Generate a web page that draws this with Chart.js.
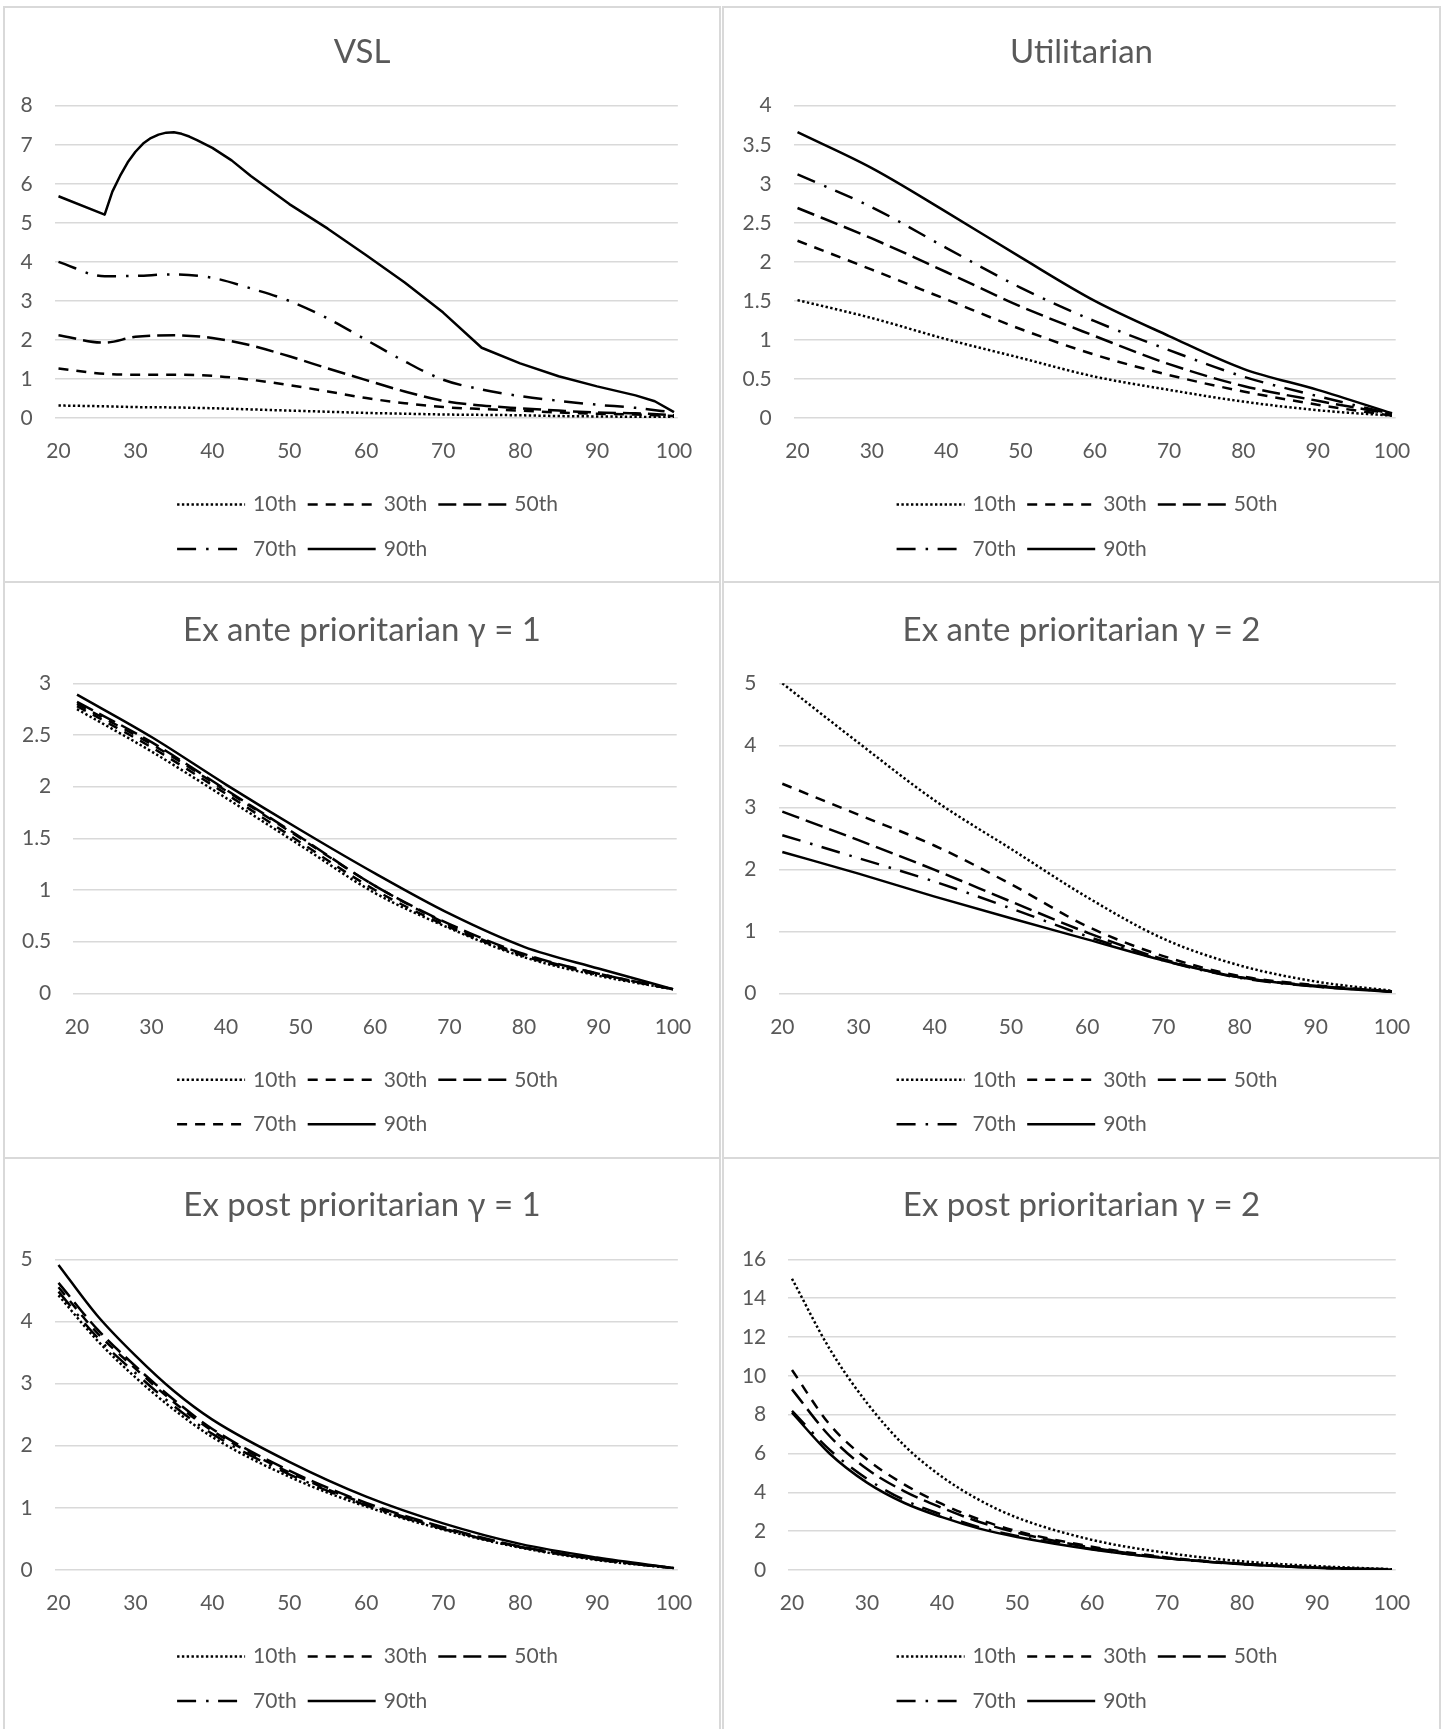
<!DOCTYPE html>
<html><head><meta charset="utf-8">
<style>
html,body{margin:0;padding:0;background:#fff;width:1445px;height:1729px;overflow:hidden}
.panel{position:absolute;box-sizing:border-box;border:2px solid #d9d9d9;background:#fff}
.panel .holder{position:absolute;left:0;top:0;right:0;bottom:0}
</style>
<script src="https://cdn.jsdelivr.net/npm/chart.js@4.4.1/dist/chart.umd.min.js"></script>
</head><body>
<div class="panel" style="left:3px;top:6px;width:718px;height:577px"><div class="holder"><canvas id="c1"></canvas></div></div>
<div class="panel" style="left:722px;top:6px;width:719px;height:577px"><div class="holder"><canvas id="c2"></canvas></div></div>
<div class="panel" style="left:3px;top:581px;width:718px;height:578px"><div class="holder"><canvas id="c3"></canvas></div></div>
<div class="panel" style="left:722px;top:581px;width:719px;height:578px"><div class="holder"><canvas id="c4"></canvas></div></div>
<div class="panel" style="left:3px;top:1157px;width:718px;height:580px"><div class="holder"><canvas id="c5"></canvas></div></div>
<div class="panel" style="left:722px;top:1157px;width:719px;height:580px"><div class="holder"><canvas id="c6"></canvas></div></div>
<script>
// ---------------- DATA ----------------
const seriesLabels = ["10th", "30th", "50th", "70th", "90th"];
const xTicks = [20, 30, 40, 50, 60, 70, 80, 90, 100];

// VSL
const vslAges = [20, 26, 30, 35, 40, 45, 50, 55, 60, 65, 70, 75, 80, 85, 90, 95, 100];
const vsl10 = [0.32, 0.30, 0.28, 0.27, 0.25, 0.22, 0.19, 0.16, 0.13, 0.11, 0.09, 0.08, 0.07, 0.05, 0.04, 0.03, 0.02];
const vsl30 = [1.27, 1.13, 1.11, 1.11, 1.08, 0.98, 0.84, 0.68, 0.51, 0.38, 0.28, 0.23, 0.19, 0.14, 0.11, 0.09, 0.05];
const vsl50 = [2.12, 1.93, 2.08, 2.12, 2.05, 1.86, 1.58, 1.27, 0.97, 0.68, 0.44, 0.32, 0.25, 0.19, 0.14, 0.12, 0.07];
const vsl70 = [4.00, 3.63, 3.64, 3.68, 3.59, 3.32, 3.00, 2.55, 2.00, 1.45, 0.98, 0.73, 0.56, 0.44, 0.34, 0.26, 0.14];
const vsl90Ages = [20, 26, 27, 28, 29, 30, 31, 32, 33, 34, 35, 36, 37, 38, 40, 42.5, 45, 50, 55, 60, 65, 70, 75, 80, 85, 90, 95, 97.5, 100];
const vsl90 = [5.68, 5.21, 5.80, 6.20, 6.55, 6.82, 7.03, 7.17, 7.26, 7.31, 7.32, 7.28, 7.21, 7.12, 6.92, 6.60, 6.20, 5.48, 4.85, 4.17, 3.47, 2.70, 1.80, 1.40, 1.07, 0.81, 0.58, 0.43, 0.15];
const vslYTicks = [0, 1, 2, 3, 4, 5, 6, 7, 8];

// Utilitarian
const utilAges = [20, 30, 40, 50, 60, 70, 80, 90, 100];
const util10 = [1.51, 1.28, 1.01, 0.77, 0.53, 0.36, 0.21, 0.10, 0.03];
const util30 = [2.27, 1.90, 1.52, 1.14, 0.81, 0.55, 0.34, 0.17, 0.03];
const util50 = [2.69, 2.30, 1.87, 1.43, 1.05, 0.69, 0.41, 0.22, 0.05];
const util70 = [3.12, 2.70, 2.18, 1.67, 1.24, 0.87, 0.53, 0.28, 0.05];
const util90 = [3.66, 3.20, 2.64, 2.06, 1.50, 1.05, 0.63, 0.36, 0.06];
const utilYTicks = [0, 0.5, 1, 1.5, 2, 2.5, 3, 3.5, 4];

// Ex ante prioritarian gamma = 1
const ea1Ages = [20, 30, 40, 50, 60, 70, 80, 90, 100];
const ea1_10 = [2.75, 2.34, 1.89, 1.43, 0.97, 0.63, 0.35, 0.17, 0.04];
const ea1_30 = [2.80, 2.41, 1.96, 1.50, 1.04, 0.66, 0.37, 0.19, 0.04];
const ea1_50 = [2.82, 2.43, 1.97, 1.51, 1.04, 0.67, 0.38, 0.19, 0.04];
const ea1_70 = [2.78, 2.38, 1.93, 1.46, 1.00, 0.64, 0.36, 0.18, 0.04];
const ea1_90 = [2.89, 2.48, 2.02, 1.58, 1.16, 0.77, 0.45, 0.24, 0.04];
const ea1YTicks = [0, 0.5, 1, 1.5, 2, 2.5, 3];

// Ex ante prioritarian gamma = 2
const ea2Ages = [20, 30, 40, 50, 60, 70, 80, 90, 100];
const ea2_10 = [5.00, 4.04, 3.11, 2.33, 1.55, 0.88, 0.45, 0.19, 0.04];
const ea2_30 = [3.38, 2.88, 2.38, 1.76, 1.08, 0.60, 0.28, 0.13, 0.03];
const ea2_50 = [2.93, 2.47, 1.99, 1.48, 0.98, 0.55, 0.26, 0.12, 0.03];
const ea2_70 = [2.55, 2.18, 1.80, 1.37, 0.92, 0.53, 0.25, 0.11, 0.03];
const ea2_90 = [2.28, 1.93, 1.56, 1.21, 0.87, 0.53, 0.26, 0.11, 0.02];
const ea2YTicks = [0, 1, 2, 3, 4, 5];

// Ex post prioritarian gamma = 1
const ep1Ages = [20, 25, 30, 35, 40, 50, 60, 70, 80, 90, 100];
const ep1_10 = [4.42, 3.70, 3.10, 2.58, 2.14, 1.50, 1.02, 0.65, 0.36, 0.16, 0.03];
const ep1_30 = [4.55, 3.82, 3.24, 2.70, 2.24, 1.57, 1.06, 0.67, 0.37, 0.17, 0.03];
const ep1_50 = [4.62, 3.88, 3.28, 2.74, 2.27, 1.60, 1.08, 0.69, 0.38, 0.18, 0.03];
const ep1_70 = [4.48, 3.75, 3.17, 2.64, 2.19, 1.54, 1.04, 0.66, 0.37, 0.17, 0.03];
const ep1_90 = [4.91, 4.10, 3.45, 2.88, 2.42, 1.74, 1.18, 0.75, 0.42, 0.20, 0.03];
const ep1YTicks = [0, 1, 2, 3, 4, 5];

// Ex post prioritarian gamma = 2
const ep2Ages = [20, 25, 30, 35, 40, 45, 50, 60, 70, 80, 90, 100];
const ep2_10 = [15.0, 11.4, 8.6, 6.4, 4.8, 3.6, 2.7, 1.55, 0.88, 0.45, 0.20, 0.04];
const ep2_30 = [10.3, 7.5, 5.7, 4.4, 3.4, 2.6, 2.0, 1.2, 0.65, 0.33, 0.13, 0.03];
const ep2_50 = [9.3, 6.9, 5.2, 4.05, 3.2, 2.47, 1.92, 1.15, 0.62, 0.32, 0.12, 0.03];
const ep2_70 = [8.2, 6.2, 4.7, 3.6, 2.85, 2.2, 1.75, 1.08, 0.60, 0.30, 0.12, 0.03];
const ep2_90 = [8.1, 6.0, 4.5, 3.45, 2.72, 2.13, 1.70, 1.06, 0.60, 0.30, 0.12, 0.03];
const ep2YTicks = [0, 2, 4, 6, 8, 10, 12, 14, 16];

// ---------------- STYLE ----------------
const FONT = "Lato, 'Liberation Serif', sans-serif";
const TEXT = '#595959';
const DASH = {
  dot: [2.4, 2.4],
  dash: [10, 8],
  longDash: [18, 7],
  longDashDot: [19, 10, 2.5, 9.5],
  solid: []
};

function pts(xs, ys) { return xs.map((x, i) => ({ x: x, y: ys[i] })); }

function ds(label, xs, ys, dash, tension) {
  const d = {
    label: label,
    data: pts(xs, ys),
    yAxisID: 'y',
    borderColor: '#000000',
    backgroundColor: '#000000',
    borderWidth: 2.5,
    borderDash: dash,
    borderCapStyle: 'butt',
    borderJoinStyle: 'round',
    pointRadius: 0,
    fill: false
  };
  if (tension === 0) { d.tension = 0; } else { d.cubicInterpolationMode = 'monotone'; }
  return d;
}

const legendPlugin = {
  id: 'excelLegend',
  afterDraw(chart, args, opts) {
    const ctx = chart.ctx;
    const area = chart.chartArea;
    const dsets = chart.data.datasets;
    const rows = [dsets.slice(0, 3), dsets.slice(3)];
    const sample = 68, gap = 8, itemGap = 11;
    ctx.save();
    ctx.font = '21px ' + FONT;
    const rowWidth = r => r.reduce((s, d, i) => s + sample + gap + ctx.measureText(d.label).width + (i ? itemGap : 0), 0);
    const maxW = Math.max.apply(null, rows.map(rowWidth));
    const x0 = (chart.width - maxW) / 2 + opts.shift;
    rows.forEach((r, ri) => {
      const y = area.bottom + opts.rowY[ri];
      let x = x0;
      r.forEach(d => {
        ctx.beginPath();
        ctx.setLineDash(d.borderDash || []);
        ctx.lineWidth = d.borderWidth;
        ctx.lineCap = 'butt';
        ctx.strokeStyle = d.borderColor;
        ctx.moveTo(x, y);
        ctx.lineTo(x + sample, y);
        ctx.stroke();
        ctx.setLineDash([]);
        ctx.fillStyle = TEXT;
        ctx.textBaseline = 'middle';
        ctx.textAlign = 'left';
        ctx.fillText(d.label, x + sample + gap, y);
        x += sample + gap + ctx.measureText(d.label).width + itemGap;
      });
    });
    ctx.restore();
  }
};

const rowLayout = [
  { tTop: 24.9, tBottom: 33.2, padB: 113 },
  { tTop: 27.3, tBottom: 33.4, padB: 113.7 },
  { tTop: 26.8, tBottom: 33.9, padB: 115 }
];

function makeChart(id, title, datasets, yTicks, row, yW, padR) {
  const L = rowLayout[row];
  return new Chart(document.getElementById(id), {
    type: 'line',
    data: { datasets: datasets },
    plugins: [legendPlugin],
    options: {
      responsive: true,
      maintainAspectRatio: false,
      animation: false,
      events: [],
      layout: { padding: { left: 0, top: 0, right: 0, bottom: L.padB } },
      plugins: {
        legend: { display: false },
        tooltip: { enabled: false },
        title: {
          display: true,
          text: title,
          color: TEXT,
          font: { family: FONT, size: 33, weight: 'normal', lineHeight: 1.2 },
          padding: { top: L.tTop, bottom: L.tBottom }
        },
        excelLegend: { rowY: [86.5, 131], shift: 5.5 }
      },
      scales: {
        x: {
          type: 'linear',
          min: 19.5,
          max: 100.5,
          afterBuildTicks: s => { s.ticks = xTicks.map(v => ({ value: v })); },
          afterFit: s => { s.height = 50; },
          grid: { display: false, drawTicks: false },
          border: { display: false },
          ticks: {
            autoSkip: false, maxRotation: 0, padding: 21, color: TEXT,
            font: { family: FONT, size: 21 },
            callback: v => String(v)
          }
        },
        y: {
          position: 'left',
          min: yTicks[0],
          max: yTicks[yTicks.length - 1],
          afterBuildTicks: s => { s.ticks = yTicks.map(v => ({ value: v })); },
          afterFit: s => { s.width = yW; },
          grid: { color: '#d9d9d9', lineWidth: 1.6, drawTicks: false },
          border: { display: false },
          ticks: {
            padding: 22, color: TEXT,
            font: { family: FONT, size: 21 },
            callback: v => String(v)
          }
        },
        yR: {
          position: 'right',
          display: true,
          min: 0,
          max: 1,
          afterFit: s => { s.width = padR; },
          grid: { display: false, drawTicks: false },
          border: { display: false },
          ticks: { display: false }
        }
      }
    }
  });
}

makeChart('c1', 'VSL', [
  ds(seriesLabels[0], vslAges, vsl10, DASH.dot),
  ds(seriesLabels[1], vslAges, vsl30, DASH.dash),
  ds(seriesLabels[2], vslAges, vsl50, DASH.longDash),
  ds(seriesLabels[3], vslAges, vsl70, DASH.longDashDot),
  ds(seriesLabels[4], vsl90Ages, vsl90, DASH.solid, 0)
], vslYTicks, 0, 49.65, 41.15);

makeChart('c2', 'Utilitarian', [
  ds(seriesLabels[0], utilAges, util10, DASH.dot),
  ds(seriesLabels[1], utilAges, util30, DASH.dash),
  ds(seriesLabels[2], utilAges, util50, DASH.longDash),
  ds(seriesLabels[3], utilAges, util70, DASH.longDashDot),
  ds(seriesLabels[4], utilAges, util90, DASH.solid)
], utilYTicks, 0, 69.8, 43.3);

makeChart('c3', 'Ex ante prioritarian \u03B3 = 1', [
  ds(seriesLabels[0], ea1Ages, ea1_10, DASH.dot),
  ds(seriesLabels[1], ea1Ages, ea1_30, DASH.dash),
  ds(seriesLabels[2], ea1Ages, ea1_50, DASH.longDash),
  ds(seriesLabels[3], ea1Ages, ea1_70, DASH.dash),
  ds(seriesLabels[4], ea1Ages, ea1_90, DASH.solid)
], ea1YTicks, 1, 68.3, 42.3);

makeChart('c4', 'Ex ante prioritarian \u03B3 = 2', [
  ds(seriesLabels[0], ea2Ages, ea2_10, DASH.dot),
  ds(seriesLabels[1], ea2Ages, ea2_30, DASH.dash),
  ds(seriesLabels[2], ea2Ages, ea2_50, DASH.longDash),
  ds(seriesLabels[3], ea2Ages, ea2_70, DASH.longDashDot),
  ds(seriesLabels[4], ea2Ages, ea2_90, DASH.solid)
], ea2YTicks, 1, 54.5, 43.2);

makeChart('c5', 'Ex post prioritarian \u03B3 = 1', [
  ds(seriesLabels[0], ep1Ages, ep1_10, DASH.dot),
  ds(seriesLabels[1], ep1Ages, ep1_30, DASH.dash),
  ds(seriesLabels[2], ep1Ages, ep1_50, DASH.longDash),
  ds(seriesLabels[3], ep1Ages, ep1_70, DASH.longDashDot),
  ds(seriesLabels[4], ep1Ages, ep1_90, DASH.solid)
], ep1YTicks, 2, 49.65, 41.15);

makeChart('c6', 'Ex post prioritarian \u03B3 = 2', [
  ds(seriesLabels[0], ep2Ages, ep2_10, DASH.dot),
  ds(seriesLabels[1], ep2Ages, ep2_30, DASH.dash),
  ds(seriesLabels[2], ep2Ages, ep2_50, DASH.longDash),
  ds(seriesLabels[3], ep2Ages, ep2_70, DASH.longDashDot),
  ds(seriesLabels[4], ep2Ages, ep2_90, DASH.solid)
], ep2YTicks, 2, 64.25, 43.25);
</script>
</body></html>
